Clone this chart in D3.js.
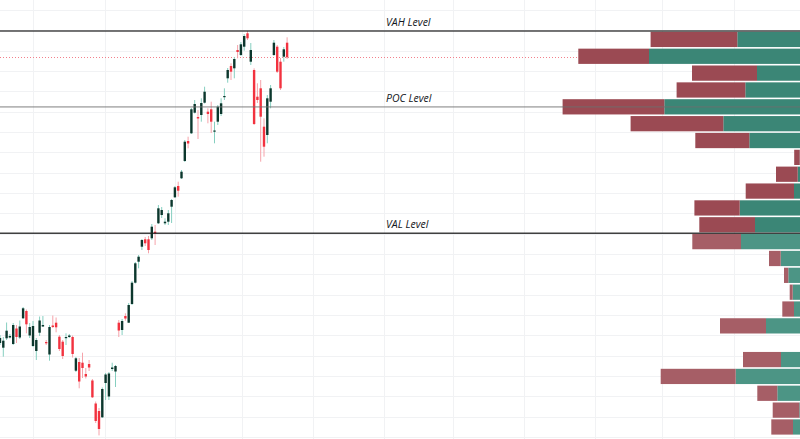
<!DOCTYPE html>
<html><head><meta charset="utf-8">
<script src="https://cdn.jsdelivr.net/npm/d3@7/dist/d3.min.js"></script>
<style>html,body{margin:0;padding:0;background:#fff;overflow:hidden}</style>
</head><body>
<svg id="chart" width="800" height="439"></svg>
<script>
// ---- Candle data (one bar per trading day) ----
const opens  = [348.5,346.15,350.85,351.25,348,355.75,351.25,360.85,364.5,352.25,347,344.5,353.65,356.75,349,342.75,357.25,358.65,351.65,349.15,351,351.5,351.5,334.65,339,338.65,333,338,329.75,318.25,314.5,311.35,328.5,321.75,335.5,334.25,358.65,355,362,358.65,368,378.65,389.15,396.65,400.35,400.35,400.85,404.15,408.35,412.5,408.35,409.15,416.65,421.35,427,430.85,439.5,449.5,453.35,463.65,461.5,462.5,468.65,464.15,465.35,454.25,459.15,463,471.5,480.85,487,485.85,495,492.5,496.65,503.35,489.15,485,471.65,475.85,456.65,452.5,469.15,492.5,496.65,489.15,491.65,498.65];
const highs  = [352.5,351.5,358.75,353,358.5,357.5,359.75,366.5,365.25,358.5,359.5,351,361.75,362,350,357.5,362.25,361.25,352.5,350,353.35,353,352.25,341.5,341,343.65,336,340,330.5,319.25,316,326.25,333.5,334,338.65,337.5,360,360.5,363.35,368.5,379.5,389,392.5,400.5,401.5,402,408,407.5,417.5,416.5,410.85,415,420.5,427,429.15,435,450,451.65,466,470,465,470.85,476.65,465.85,469.15,459.15,467.5,470.85,475.85,486,488.35,491.5,497.5,499,503,504.5,498.5,485.85,478.35,480,460.85,472.5,477.5,500,497.5,491,496.5,501.35];
const lows   = [347.5,341.65,350,350.75,347.5,348.5,350.5,360.5,353.35,351,346.5,340,352,356.5,347.5,339.65,356,353.85,344.5,340.5,347.5,351,341.25,334,325.85,331,330.75,334.5,321,308.5,302.3,311,320,320,334.5,326.5,351.5,352.5,359.65,358.5,367.5,378.25,385.85,395,397,393.35,400,397.5,408,411,407.5,407.5,408.5,421,421.65,430.5,439,445.85,453,463.25,450.5,459.15,468.25,458.35,453.5,448.35,457.5,462,470,478.65,480,480.85,490.85,492,494.65,500,487.5,457.5,468.5,439.15,441.65,448.35,465.85,492,483.5,475,489.15,490.5];
const closes = [351,349.65,354.65,352,357.5,351.5,356.75,365.85,357.85,356.5,357,350,359.75,357.5,348.35,356.5,356.5,356.35,345.5,342,351.5,352.25,343,340.85,329.25,336,331.75,336.25,321.35,309.5,305.5,325.5,332.75,333.25,336.25,337,354.75,359.5,360.75,367.5,378.65,388.35,391.65,400,398.35,395,406.65,403.35,415.85,415,409.15,413.35,420,426.35,424.65,434.15,449.15,448.25,465.35,468,460.75,468.5,474.15,463,459.15,454.75,466.65,468.35,472,485,484.15,490.5,494,497.85,502,500.85,495,458,470,461.65,446.65,470.85,475.85,498.65,484.15,475.85,495.35,491.35];

// ---- Volume profile rows, top (highest price) to bottom ----
const profileUpVolume   = [62.7,151,43,54.7,135.7,76.7,50.7,0.3,2.3,6,60.3,45,59,19.3,11.7,7.3,6,34,0,19,64.3,22.7,0.7,7];
const profileDownVolume = [86.7,70.7,65,68.7,101.7,92.7,54,5.5,21.7,48.3,45.3,55.7,48.7,11.7,4.3,3,11.7,46,0,38,75,20,26.6,21.7];
const valueAreaShare = 0.7;

// ---- Axis ticks (unlabelled grid) ----
const priceGridTop = 515.1, priceGridStep = 10.175, priceGridCount = 22;
const monthStartBars = [9.9,31.9,53,73.2,94.8,116.4,137.2,158.8,180.3,200.5,222.5];
const levelNames = ["VAH Level","POC Level","VAL Level"];

// ---- Layout ----
const W = 800, H = 439;
const barSpacing = 3.3;
const profileMaxWidth = 237.4;
const svg = d3.select("#chart");

const y = d3.scaleLinear().domain([520, 300.5]).range([0, H]);
const x = d3.scaleLinear().domain([0, W / barSpacing]).range([0, W]);
const crisp = v => Math.round(v) + 0.5;

// grid
const gridLevels = d3.range(priceGridCount).map(k => priceGridTop - k * priceGridStep);
const grid = svg.append("g");
grid.selectAll(".h").data(gridLevels).join("line").attr("class","h")
  .attr("x1",0).attr("x2",W).attr("y1",d=>crisp(y(d))).attr("y2",d=>crisp(y(d)))
  .attr("stroke","#f1f2f4").attr("stroke-width",1);
grid.selectAll(".v").data(monthStartBars).join("line").attr("class","v")
  .attr("y1",0).attr("y2",H).attr("x1",d=>crisp(x(d))).attr("x2",d=>crisp(x(d)))
  .attr("stroke","#f1f2f4").attr("stroke-width",1);

// last price dotted line
const lastClose = closes[closes.length-1];
svg.append("line").attr("x1",0).attr("x2",W)
  .attr("y1",crisp(y(lastClose))).attr("y2",crisp(y(lastClose)))
  .attr("stroke","#f2808b").attr("stroke-width",1).attr("stroke-dasharray","1,2");

// candles
const candles = opens.map((o,i)=>({i,o,h:highs[i],l:lows[i],c:closes[i],up:closes[i]>=o}));
const cg = svg.append("g");
cg.selectAll(".wick").data(candles).join("line").attr("class","wick")
  .attr("x1",d=>x(d.i)).attr("x2",d=>x(d.i))
  .attr("y1",d=>y(d.h)).attr("y2",d=>y(d.l))
  .attr("stroke",d=>d.up?"#86cfc0":"#f6a3aa").attr("stroke-width",1);
const bodyW = 2.4;
cg.selectAll(".body").data(candles).join("rect").attr("class","body")
  .attr("x",d=>x(d.i)-bodyW/2).attr("width",bodyW)
  .attr("y",d=>y(Math.max(d.o,d.c)))
  .attr("height",d=>Math.max(1.2, Math.abs(y(d.o)-y(d.c))))
  .attr("fill",d=>d.up?"#0c372d":"#f2323f");

// volume profile
const pHigh = d3.max(highs), pLow = d3.min(lows), nRows = profileUpVolume.length;
const rowStep = (pHigh - pLow) / nRows;
const totals = profileUpVolume.map((u,i)=>u+profileDownVolume[i]);
const vx = d3.scaleLinear().domain([0, d3.max(totals)]).range([0, profileMaxWidth]);
const poc = d3.maxIndex(totals);
let topIdx = poc, botIdx = poc, acc = totals[poc];
const target = valueAreaShare * d3.sum(totals);
while (acc < target) {
  const above = topIdx > 0 ? totals[topIdx-1] : -1;
  const below = botIdx < nRows-1 ? totals[botIdx+1] : -1;
  if (above < 0 && below < 0) break;
  if (above >= below) { topIdx--; acc += above; } else { botIdx++; acc += below; }
}
const rows = totals.map((t,i)=>({
  i, up: profileUpVolume[i], down: profileDownVolume[i],
  top: y(pHigh - i*rowStep), bot: y(pHigh - (i+1)*rowStep),
  inVA: i>=topIdx && i<=botIdx
}));
const pg = svg.append("g");
pg.selectAll(".pu").data(rows.filter(r=>r.up>0)).join("rect").attr("class","pu")
  .attr("x",r=>W - vx(r.up)).attr("width",r=>vx(r.up))
  .attr("y",r=>r.top+0.8).attr("height",r=>r.bot-r.top-1.6)
  .attr("fill",r=>r.inVA?"#3b8676":"#4c9585");
pg.selectAll(".pd").data(rows.filter(r=>r.down>0)).join("rect").attr("class","pd")
  .attr("x",r=>W - vx(r.up) - vx(r.down)).attr("width",r=>vx(r.down))
  .attr("y",r=>r.top+0.8).attr("height",r=>r.bot-r.top-1.6)
  .attr("fill",r=>r.inVA?"#9b4a53":"#a65e66");

// levels
const levelPrices = [pHigh - topIdx*rowStep, pHigh - (poc+0.5)*rowStep, pHigh - (botIdx+1)*rowStep];
const levelStyles = [
  {stroke:"rgba(40,40,40,0.85)", w:1.4},
  {stroke:"rgba(110,110,110,0.5)", w:1.6},
  {stroke:"rgba(30,30,30,0.85)", w:1.5}
];
const lg = svg.append("g");
levelPrices.forEach((p,k)=>{
  const yy = y(p);
  lg.append("line").attr("x1",0).attr("x2",W).attr("y1",yy).attr("y2",yy)
    .attr("stroke",levelStyles[k].stroke).attr("stroke-width",levelStyles[k].w);
  lg.append("text").attr("x",386).attr("y",yy-5)
    .attr("font-family","'Open Sans', 'Liberation Sans', sans-serif")
    .attr("font-style","italic").attr("font-size","10.5px").attr("fill","#131722")
    .text(levelNames[k]);
});
</script>
</body></html>
